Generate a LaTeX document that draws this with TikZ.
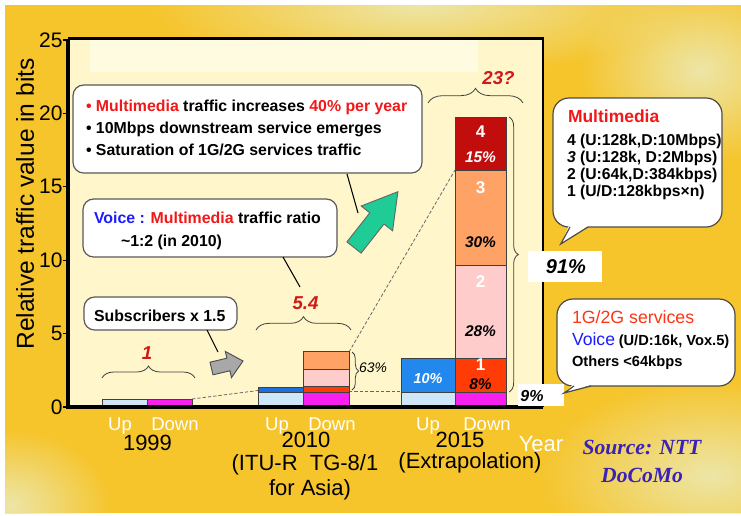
\documentclass[tikz,border=0pt]{standalone}
\usepackage{fontspec}
\setmainfont{Liberation Sans}
\newfontfamily\srcfont{Liberation Serif}
\usetikzlibrary{decorations.pathreplacing,fadings}

\definecolor{bggold}{HTML}{F6C52C}
\definecolor{bgpale}{HTML}{EDE6A8}
\definecolor{plotbg}{HTML}{FFF7CB}
\definecolor{plotstrip}{HTML}{FFFBE0}
\definecolor{paleblue}{HTML}{CDE6F8}
\definecolor{magentabar}{HTML}{F820EE}
\definecolor{bluebar}{HTML}{2288EE}
\definecolor{bluestrip}{HTML}{1E6FDD}
\definecolor{redbar}{HTML}{FF3C06}
\definecolor{pinkbar}{HTML}{FFCCCC}
\definecolor{orangebar}{HTML}{FFA266}
\definecolor{darkredbar}{HTML}{C20D0D}
\definecolor{arrowgreen}{HTML}{1FCC96}
\definecolor{arrowgray}{HTML}{A8A8A8}
\definecolor{hotred}{HTML}{F01818}
\definecolor{labelred}{HTML}{D01A1A}
\definecolor{voiceblue}{HTML}{1C1CFF}
\definecolor{svcred}{HTML}{FF3414}
\definecolor{srcblue}{HTML}{3A22B8}

\tikzfading[name=softglow, inner color=transparent!0, outer color=transparent!100]

\newcommand{\fs}[1]{\fontsize{#1pt}{#1pt}\selectfont}

\begin{document}
\begin{tikzpicture}[x=0.75pt,y=-0.75pt,
  txt/.style={inner sep=0pt, outer sep=0pt},
  bar/.style={draw=black!75, line width=0.6pt},
  callout/.style={draw=black!65, fill=white, line width=0.9pt, rounded corners=8pt},
  bubble/.style={draw=black!70, fill=white, line width=0.9pt, rounded corners=12pt},
  tailside/.style={draw=black!70, line width=0.9pt},
  leader/.style={draw=black, line width=0.8pt},
  guide/.style={draw=black!60, dash pattern=on 2.5pt off 1.5pt, line width=0.6pt},
  curly/.style={draw=black!75, line width=0.6pt, decorate, decoration={brace, amplitude=#1}},
  ticklbl/.style={txt, anchor=east, font=\fs{15.75}},
  updown/.style={txt, anchor=base, font=\fs{13.9}, text=white},
  yearlbl/.style={txt, anchor=base, font=\fs{16.5}},
  boxtxt/.style={txt, anchor=base west, font=\bfseries\fs{11.9}},
  bubtxt/.style={txt, anchor=base west, font=\bfseries\fs{11}},
  growth/.style={txt, font=\bfseries\itshape\fs{14}, text=labelred},
  barnum/.style={txt, font=\bfseries\fs{12.75}, text=white},
  barpct/.style={txt, font=\bfseries\itshape\fs{11.6}},
  whitebox/.style={fill=white, draw=none}
]
\useasboundingbox (0,0) rectangle (741,515);

% backdrop: golden field with pale glows
\fill[white] (0,0) rectangle (741,515);
\fill[bggold] (5,5) rectangle (741,513);
\begin{scope}
  \clip (5,5) rectangle (741,513);
  \fill[bgpale, path fading=softglow] (420,5) ellipse [x radius=270, y radius=70];
  \fill[bgpale, path fading=softglow] (700,70) ellipse [x radius=120, y radius=95];
  \fill[bgpale, path fading=softglow] (710,475) ellipse [x radius=170, y radius=95];
  \fill[bgpale, path fading=softglow] (10,505) ellipse [x radius=100, y radius=75];
\end{scope}

% plot area
\fill[plotbg] (68,38) rectangle (543,407);
\fill[plotstrip] (90,40) rectangle (478,72);

% dashed growth guides
\draw[guide] (192,399) -- (258,390.5);
\draw[guide] (349,391) -- (401.5,391);
\draw[guide] (349,352) -- (455,170);

% 1999 bars
\path[bar, fill=paleblue] (102,407) rectangle (147,399);
\path[bar, fill=magentabar] (147,407) rectangle (192,399);

% 2010 bars
\path[bar, fill=paleblue] (258,407) rectangle (303,392);
\path[bar, fill=bluestrip] (258,392) rectangle (303,387.5);
\path[bar, fill=magentabar] (303,407) rectangle (349,392);
\path[bar, fill=redbar] (303,392) rectangle (349,386);
\path[bar, fill=pinkbar] (303,386) rectangle (349,369);
\path[bar, fill=orangebar] (303,369) rectangle (349,351.7);

% 2015 bars
\path[bar, fill=paleblue] (401.5,407) rectangle (455,392);
\path[bar, fill=bluebar] (401.5,392) rectangle (455,358);
\path[bar, fill=magentabar] (455,407) rectangle (506,392);
\path[bar, fill=redbar] (455,392) rectangle (506,358);
\path[bar, fill=pinkbar] (455,358) rectangle (506,265.7);
\path[bar, fill=orangebar] (455,265.7) rectangle (506,170);
\path[bar, fill=darkredbar] (455,170) rectangle (506,117);

% labels inside the 2015 bars
\node[barnum] (n4) at (480.5,132) {4};
\node[barpct, text=white] (p4) at (480.5,157) {15\%};
\node[barnum] (n3) at (480.5,188) {3};
\node[barpct] (p3) at (480.5,242) {30\%};
\node[barnum] (n2) at (480.5,282) {2};
\node[barpct] (p2) at (480.5,331) {28\%};
\node[barnum] (n1) at (480.5,365) {1};
\node[barpct] (p1) at (480.5,384) {8\%};
\node[barpct, text=white, font=\bfseries\itshape\fs{10.8}] (pv) at (428,379) {10\%};

% braces
\draw[curly=9pt] (102,378) -- (195,378);
\draw[curly=10pt] (256,330) -- (351,330);
\draw[curly=11pt] (428,103) -- (523,103);
\draw[curly=5pt] (352,352) -- (352,390);
\draw[curly=7pt] (509,117) -- (509,392);

\node[growth] (g1999) at (147,353.5) {1};
\node[growth] (g2010) at (305.5,303.5) {5.4};
\node[growth] (g2015) at (498.5,78.5) {23?};
\node[txt, font=\itshape\fs{10.4}] (share63) at (373,368) {63\%};

% axes
\draw[line width=1.9pt] (68,38.5) -- (543,38.5) -- (543,407);
\draw[line width=2.3pt] (68,38.5) -- (68,407) -- (543,407);
\foreach \v in {0,5,10,15,20,25}{
  \draw[line width=1pt] (63,{407-14.68*\v}) -- (69,{407-14.68*\v});
  \node[ticklbl] (t\v) at (62.5,{407-14.68*\v}) {\v};
}
\node[txt, rotate=90, font=\fs{18.4}] (ytitle) at (25,204) {Relative traffic value in bits};

% share boxes on the right axis
\fill[whitebox] (528,251) rectangle (602,282);
\node[txt, font=\bfseries\itshape\fs{15}] (s91) at (566,267) {91\%};
\fill[whitebox] (518,384) rectangle (564,406);
\node[txt, font=\bfseries\itshape\fs{12}] (s9) at (532,396) {9\%};

% category labels
\node[updown] (u1) at (120,430) {Up};
\node[updown] (d1) at (175,430) {Down};
\node[updown] (u2) at (277,430) {Up};
\node[updown] (d2) at (332,430) {Down};
\node[updown] (u3) at (428,430) {Up};
\node[updown] (d3) at (487,430) {Down};
\node[yearlbl] (y1999) at (147.5,450) {1999};
\node[yearlbl] (y2010) at (306,447) {2010};
\node[yearlbl] (y2010a) at (305,470) {(ITU-R\ \ TG-8/1};
\node[yearlbl] (y2010b) at (310,495) {for Asia)};
\node[yearlbl] (y2015) at (460,447) {2015};
\node[yearlbl] (y2015a) at (470,468) {(Extrapolation)};
\node[yearlbl, text=white] (yearax) at (541,451) {Year};
\node[txt, anchor=base, font=\srcfont\bfseries\itshape\fs{16.2}, text=srcblue] (src1) at (642,454) {Source: NTT};
\node[txt, anchor=base, font=\srcfont\bfseries\itshape\fs{16.2}, text=srcblue] (src2) at (642,482) {DoCoMo};

% block arrows
\draw[fill=arrowgreen, draw=black!60, line width=0.7pt]
  (346.9,241.9) -- (369.8,212.8) -- (361.2,206.0) -- (397.9,191.7)
  -- (392.6,230.8) -- (384,224) -- (361.1,253.1) -- cycle;
\draw[fill=arrowgray, draw=black!70, line width=0.7pt]
  (210,362.2) -- (226.9,358.2) -- (225.3,351.4) -- (243,361)
  -- (231.5,377.6) -- (229.9,370.8) -- (213,374.8) -- cycle;

% callout boxes and their leaders
\draw[callout] (73,85) rectangle (422,173);
\node[boxtxt] (b1a) at (86,111) {\textcolor{hotred}{\textbullet\ Multimedia} traffic increases \textcolor{hotred}{40\% per year}};
\node[boxtxt] (b1b) at (86,133) {\textbullet\ 10Mbps downstream service emerges};
\node[boxtxt] (b1c) at (86,155) {\textbullet\ Saturation of 1G/2G services traffic};
\draw[leader] (347,174) -- (358,213);

\draw[callout] (83,199) rectangle (337,257);
\node[boxtxt] (b2a) at (94,223) {\textcolor{voiceblue}{Voice :} \textcolor{hotred}{Multimedia} traffic ratio};
\node[boxtxt] (b2b) at (121,246) {\textasciitilde1:2 (in 2010)};
\draw[leader] (283,257) -- (300,287);

\draw[callout] (84,297) rectangle (237,330);
\node[boxtxt] (b3) at (94,321) {Subscribers x 1.5};
\draw[leader] (207,330) -- (218,352);

% speech bubbles
\draw[bubble] (553,98) rectangle (722,227);
\fill[white] (569,225.5) -- (560.7,244) -- (589,225.5) -- cycle;
\draw[tailside] (570,227) -- (560.7,244) -- (588,227);
\node[bubtxt, font=\bfseries\fs{13.1}, text=hotred] (m0) at (568,122) {Multimedia};
\node[bubtxt, font=\bfseries\fs{11.8}] (m4) at (567,145) {4 (U:128k,D:10Mbps)};
\node[bubtxt, font=\bfseries\fs{11.8}] (m3) at (567,162) {\textit{3} (U:128k, D:2Mbps)};
\node[bubtxt, font=\bfseries\fs{11.8}] (m2) at (567,179) {2 (U:64k,D:384kbps)};
\node[bubtxt, font=\bfseries\fs{11.8}] (m1) at (567,196) {1 (U/D:128kbps×n)};

\draw[bubble] (557,299) rectangle (735,386);
\fill[white] (573,384.5) -- (564,393) -- (592,384.5) -- cycle;
\draw[tailside] (574,386) -- (564,393) -- (591,386);
\node[txt, anchor=base west, font=\fs{13.3}, text=svcred] (v0) at (572,323) {1G/2G services};
\node[txt, anchor=base west] (v1) at (572,345) {{\fs{13.2}\textcolor{voiceblue}{Voice}} {\bfseries\fs{11}(U/D:16k, Vox.5)}};
\node[bubtxt] (v2) at (572,366) {Others <64kbps};
\end{tikzpicture}
\end{document}
